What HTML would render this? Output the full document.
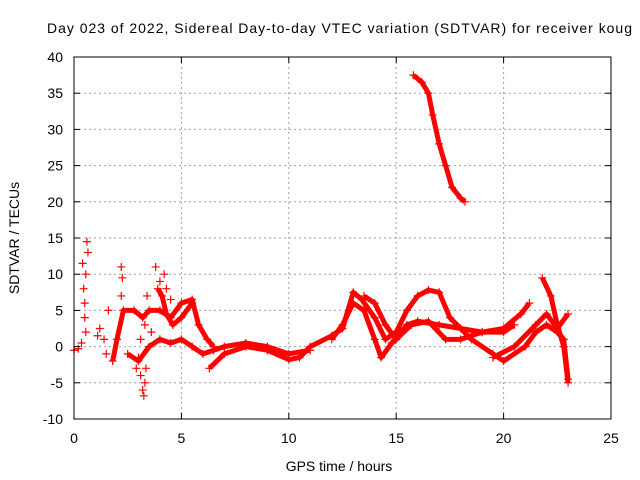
<!DOCTYPE html>
<html><head><meta charset="utf-8"><style>
body{margin:0;background:#fff}
svg{display:block;font-family:"Liberation Sans",sans-serif}
</style></head><body>
<svg id="c" width="640" height="480">
<text x="47" y="33" font-size="14" textLength="585" lengthAdjust="spacing">Day 023 of 2022, Sidereal Day-to-day VTEC variation (SDTVAR) for receiver koug</text>
<text x="339" y="471" text-anchor="middle" font-size="14">GPS time / hours</text>
<text transform="translate(19,238) rotate(-90)" text-anchor="middle" font-size="14">SDTVAR / TECUs</text>
<g id="grid"></g><g id="marks"></g><g id="axes"></g>
</svg>
<script>
const xTicks=[0,5,10,15,20,25];
const yTicks=[-10,-5,0,5,10,15,20,25,30,35,40];
const trackA=[[15.8,37.5],[16.2,36.5],[16.5,35],[16.7,32],[17,28],[17.3,25],[17.6,22],[18,20.5],[18.2,20]];
const trackB=[[6.3,-3],[7,-1],[8,0],[9,-0.5],[10,-1.8],[10.5,-1.5],[11,0],[12,1.5],[12.5,2.5],[13,7.5],[13.4,6.5],[14,4],[14.5,1],[15,2],[15.5,5],[16,7],[16.5,7.8],[17,7.5],[17.5,4],[18,2.5],[19,2],[20,2.5],[20.8,4.5],[21.2,6]];
const trackC=[[12,1],[12.5,3],[13,6],[13.5,5],[14,1],[14.3,-1.5],[14.8,0.5],[15.5,3],[16,3.5],[17,3],[18,2.5],[18.5,1],[19.5,-1],[20,-2],[21,0],[21.5,2],[22,3],[22.5,2],[22.8,1],[23,-4.5]];
const trackD=[[13.5,7],[14,6],[14.5,3],[15,1],[15.7,3],[16.5,3.5],[17.3,1],[18,1],[19,2],[20,2],[20.5,3]];
const trackE=[[21.8,9.5],[22.2,7],[22.5,3],[22.8,0],[23,-5]];
const trackF=[[19.5,-1.5],[20.5,0],[21.5,3],[22,4.5],[22.5,2.5],[23,4.5]];
const trackG=[[1.8,-2],[2,1],[2.3,5],[2.8,5],[3.2,4],[3.5,5],[4,5],[4.5,4],[5,6],[5.5,6.5],[5.8,3],[6.2,1],[6.5,0]];
const trackH=[[2.5,-1],[3,-2],[3.5,0],[4,1],[4.5,0.5],[5,1],[5.5,0],[6,-1],[6.5,-0.5],[7,0],[8,0.5],[9,0],[10,-1],[11,-0.5]];
const trackI=[[3.9,8],[4.1,7],[4.3,4.5],[4.6,3],[5,4],[5.5,6]];
const scatter=[[0,-0.5],[0.2,-0.3],[0.35,0.5],[0.4,11.5],[0.45,8],[0.5,6],[0.55,10],[0.6,14.5],[0.65,13],[0.5,4],[0.55,2],[1.1,1.5],[1.2,2.5],[1.4,1],[1.6,5],[1.5,-1],[2.2,11],[2.25,9.5],[2.2,7],[3.1,-4],[3.2,-6],[3.3,-5],[3.25,-6.8],[3,-1.5],[3.4,7],[3.8,11],[4,9],[4.2,10],[4.3,8],[4.5,6.5],[3.6,2],[3.3,3],[2.9,-3],[3.1,1],[3.35,-3]];
const X0=74,X1=611,Y0=419,Y1=57;
const sx=v=>X0+(v-0)/(25-0)*(X1-X0);
const sy=v=>Y0-(v+10)/50*(Y0-Y1);
const NS='http://www.w3.org/2000/svg';
function mk(t,a,p){const e=document.createElementNS(NS,t);for(const k in a)e.setAttribute(k,a[k]);p.appendChild(e);return e;}
const grid=document.getElementById('grid'),axes=document.getElementById('axes'),marks=document.getElementById('marks');
xTicks.forEach(v=>{const x=sx(v);
 if(v>0&&v<25){const l=mk('line',{x1:x,y1:Y0,x2:x,y2:Y1,stroke:'#a0a0a0','stroke-dasharray':'2,3'},grid);}
 mk('line',{x1:x,y1:Y0,x2:x,y2:Y0-6,stroke:'#000'},axes);mk('line',{x1:x,y1:Y1,x2:x,y2:Y1+6,stroke:'#000'},axes);
 const t=mk('text',{x:x,y:Y0+24,'text-anchor':'middle','font-size':14},axes);t.textContent=v;
 });
yTicks.forEach(v=>{const y=sy(v);
 if(v>-10&&v<40){const l=mk('line',{x1:X0,y1:y,x2:X1,y2:y,stroke:'#a0a0a0','stroke-dasharray':'2,3'},grid);}
 mk('line',{x1:X0,y1:y,x2:X0+6,y2:y,stroke:'#000'},axes);mk('line',{x1:X1,y1:y,x2:X1-6,y2:y,stroke:'#000'},axes);
 const t=mk('text',{x:X0-11,y:y+5,'text-anchor':'end','font-size':14},axes);t.textContent=v;
 });
const box=mk('rect',{x:X0,y:Y1,width:X1-X0,height:Y0-Y1,fill:'none',stroke:'#000'},axes);

function plus(x,y,g){mk('path',{d:`M${x-4},${y}h8M${x},${y-4}v8`,stroke:'#f00','stroke-width':1.2},g);}
[trackA,trackB,trackC,trackD,trackE,trackF,trackG,trackH,trackI].forEach((tr,i)=>{
 const g=mk('g',{},marks);
 mk('polyline',{points:tr.map(p=>sx(p[0])+','+sy(p[1])).join(' '),fill:'none',stroke:'#f00','stroke-width':5,'stroke-linejoin':'round'},g);
 tr.forEach(p=>plus(sx(p[0]),sy(p[1]),g));});
const sg=mk('g',{},marks);
scatter.forEach(p=>plus(sx(p[0]),sy(p[1]),sg));
</script>
</body></html>
